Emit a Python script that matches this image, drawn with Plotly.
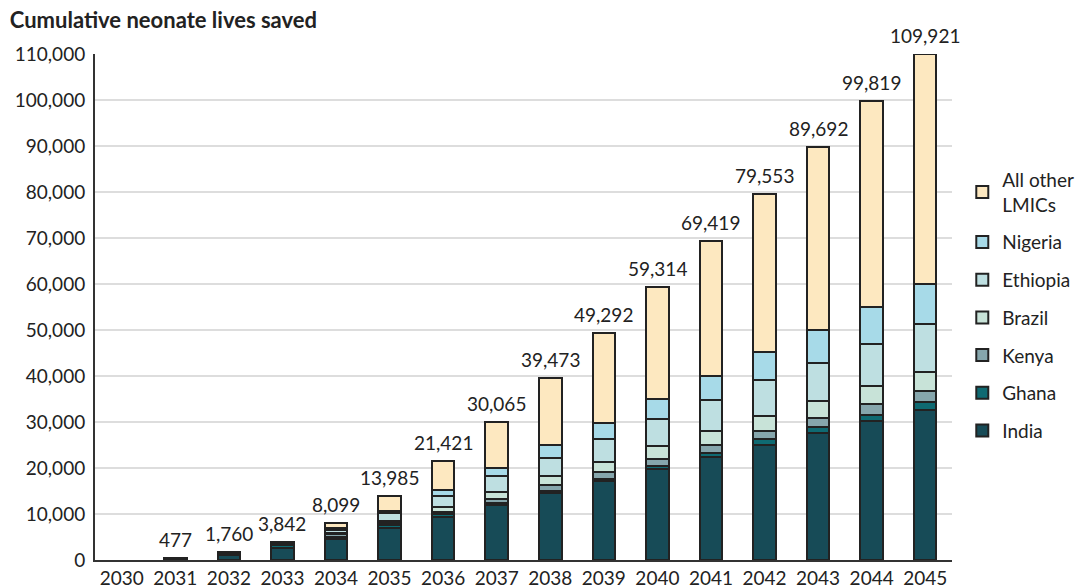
import plotly.graph_objects as go

years = [str(y) for y in range(2030, 2046)]

# Cumulative neonate lives saved, by country (stacked from the bottom up);
# 2030 has no savings yet, so it is left empty
india = [None, 250, 1100, 2550, 4500, 6900, 9400, 11900, 14600, 17200, 19800, 22400, 25100, 27700, 30200, 32700]
ghana = [None, 150, 450, 650, 600, 800, 550, 600, 450, 500, 600, 900, 1100, 1200, 1250, 1700]
kenya = [None, 50, 150, 450, 450, 400, 550, 700, 1350, 1450, 1650, 1800, 1850, 2000, 2400, 2300]
brazil = [None, 12, 30, 80, 250, 450, 1100, 1600, 1800, 2150, 2750, 2950, 3250, 3600, 3900, 4200]
ethiopia = [None, 8, 15, 60, 700, 1600, 2400, 3400, 4050, 5050, 5950, 6800, 7750, 8400, 9300, 10300]
nigeria = [None, 5, 10, 30, 350, 550, 1200, 1800, 2700, 3400, 4350, 5150, 6150, 7150, 8000, 8900]
other_lmics = [None, 2, 5, 22, 1249, 3285, 6221, 10065, 14523, 19542, 24214, 29419, 34353, 39642, 44769, 49821]

totals = [None, 477, 1760, 3842, 8099, 13985, 21421, 30065, 39473, 49292, 59314, 69419, 79553, 89692, 99819, 109921]

series = [
    ("India", india, "#174B57"),
    ("Ghana", ghana, "#0F6A72"),
    ("Kenya", kenya, "#86A6AC"),
    ("Brazil", brazil, "#C8E3D8"),
    ("Ethiopia", ethiopia, "#BEDFE1"),
    ("Nigeria", nigeria, "#A7DAE8"),
    ("All other<br>LMICs", other_lmics, "#FDE8C0"),
]

FONT = "Lato"
INK = "#222222"
SIZE = 19

fig = go.Figure()
for idx, (name, vals, color) in enumerate(series):
    fig.add_trace(go.Bar(
        x=years, y=vals, name=name, legendgroup=name,
        legendrank=len(series) - idx,  # top of the stack listed first
        marker=dict(color=color, line=dict(color=INK, width=2)),
        width=0.42,
        hoverinfo="x+y+name",
    ))

# Total labels above each bar (x given as category position)
for i, tot in enumerate(totals):
    if tot is not None:
        fig.add_annotation(
            x=i, y=tot, text=f"{tot:,}", showarrow=False,
            xanchor="center", yanchor="bottom", yshift=5,
            font=dict(family=FONT, size=SIZE, color=INK),
        )

fig.update_layout(
    width=1091, height=588,
    margin=dict(l=95, r=130, t=54, b=28),
    barmode="stack",
    plot_bgcolor="white", paper_bgcolor="white",
    font=dict(family=FONT, size=SIZE, color=INK),
    title=dict(
        text="<b>Cumulative neonate lives saved</b>",
        x=0.009, xanchor="left", xref="container",
        y=0.965, yanchor="middle", yref="container",
        font=dict(family=FONT, size=22, color=INK),
    ),
    legend=dict(
        x=1.012, xanchor="left", y=0.789, yanchor="top",
        traceorder="grouped", tracegroupgap=10,
        font=dict(family=FONT, size=SIZE, color=INK),
        itemclick=False, itemdoubleclick=False,
    ),
    showlegend=True,
)

fig.update_xaxes(
    type="category", range=[-0.5, 15.5], automargin=False,
    showline=True, linecolor="#333333", linewidth=2,
    showgrid=False, ticks="", ticklabelstandoff=0,
    tickfont=dict(family=FONT, size=SIZE, color=INK),
)
fig.update_yaxes(
    range=[0, 110000], tickvals=list(range(0, 110001, 10000)),
    tickformat=",d", automargin=False,
    showline=True, linecolor="#333333", linewidth=2,
    showgrid=True, gridcolor="#DDDDDD", gridwidth=2,
    zeroline=False, ticks="", ticklabelstandoff=4,
    tickfont=dict(family=FONT, size=SIZE, color=INK),
)

fig.write_html("out.html")
